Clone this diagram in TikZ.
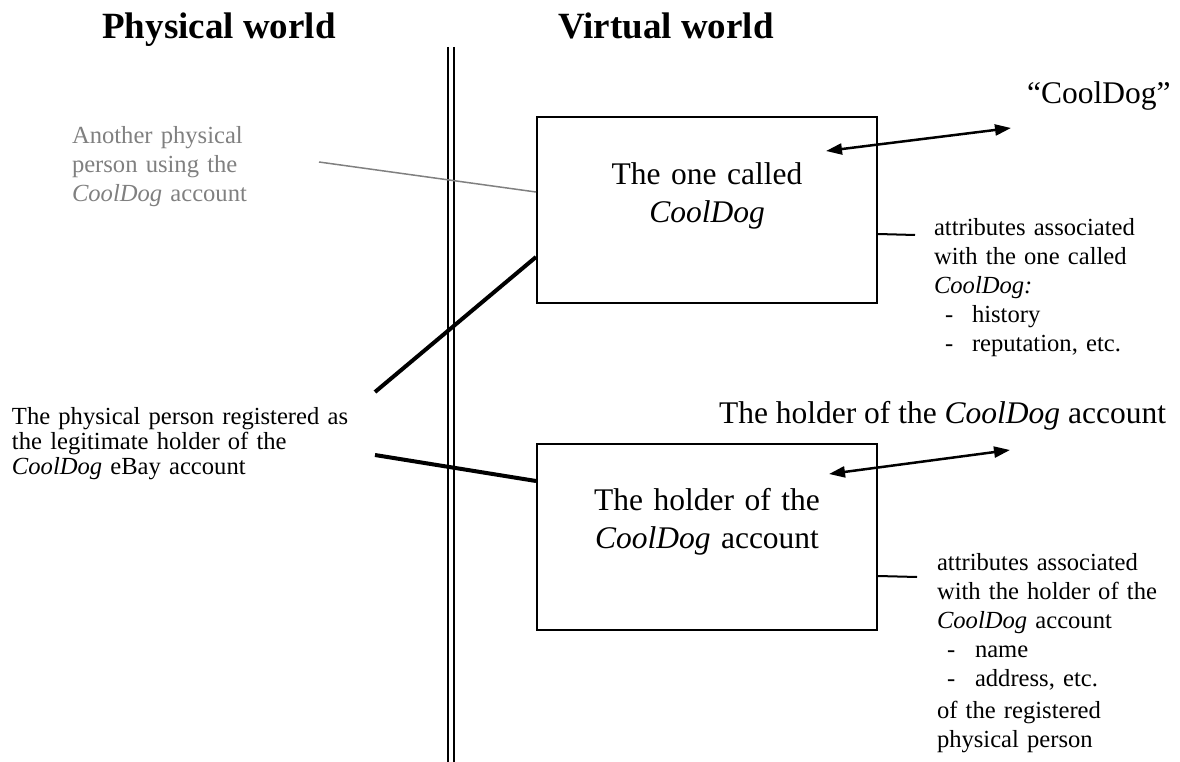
\documentclass[tikz,border=0pt]{standalone}
\usepackage{fontspec}
\setmainfont{Liberation Serif}
\usetikzlibrary{arrows.meta}
\begin{document}
\begin{tikzpicture}[x=1pt,y=-1pt,
  txt/.style={inner sep=0pt, outer sep=0pt},
  heading/.style={txt, font=\fontsize{37}{40}\selectfont\bfseries, anchor=base},
  note/.style={txt, font=\fontsize{24.6}{29}\selectfont, align=left, anchor=base west},
  big/.style={txt, font=\fontsize{31.5}{38}\selectfont},
  entity/.style={draw, line width=2pt, minimum width=340pt, minimum height=186pt, inner sep=0pt},
  link/.style={line width=4pt},
  usage/.style={draw=gray, line width=1.5pt},
  naming/.style={line width=2.5pt, {Triangle[length=16pt,width=11pt]}-{Triangle[length=16pt,width=11pt]}},
  tick/.style={line width=2pt},
  divider/.style={line width=2.5pt},
]
\useasboundingbox (0,0) rectangle (1180,762);

% column headings
\node[heading] (phys) at (219,39) {Physical world};
\node[heading] (virt) at (666,39) {Virtual world};

% border between the two worlds
\draw[divider] (448,47) -- (448,762);
\draw[divider] (454,47) -- (454,762);

% the two virtual entities
\node[entity] (called) at (707,210) {};
\node[big, align=center, text width=320pt, anchor=base] (calledtxt) at (707,185)
  {The one called\\\textit{CoolDog}};
\node[entity] (holder) at (707,537) {};
\node[big, align=center, text width=320pt, anchor=base] (holdertxt) at (707,510)
  {The holder of the\\\textit{CoolDog} account};

% their names
\node[big, anchor=base west] (quoted) at (1027,104) {“CoolDog”};
\node[big, anchor=base east] (holdername) at (1166,423) {The holder of the \textit{CoolDog} account};
\coordinate (quotedend) at (1011,128);
\coordinate (holdernameend) at (1010,450);
\draw[naming] ([xshift=-52pt,yshift=-35pt]called.north east) -- (quotedend);
\draw[naming] ([xshift=-49pt,yshift=-31pt]holder.north east) -- (holdernameend);

% attributes
\node[note, text width=240pt] (calledattr) at (934,235)
  {attributes associated\\with the one called\\\textit{CoolDog:}\\
   \hspace*{11pt}\makebox[27pt][l]{-}history\\
   \hspace*{11pt}\makebox[27pt][l]{-}reputation, etc.};
\node[note, text width=240pt] (holderattr) at (937,570)
  {attributes associated\\with the holder of the\\\textit{CoolDog} account\\
   \hspace*{10pt}\makebox[28pt][l]{-}name\\
   \hspace*{10pt}\makebox[28pt][l]{-}address, etc.\\[3pt]
   of the registered\\physical person};
\coordinate (calledattrend) at (915,235);
\coordinate (holderattrend) at (917,577);
\draw[tick] ([yshift=-118pt]called.north east) -- (calledattrend);
\draw[tick] ([yshift=-133pt]holder.north east) -- (holderattrend);

% physical persons
\node[note, text=gray, text width=220pt] (other) at (72,144)
  {Another physical\\person using the\\\textit{CoolDog} account};
\node[note, font=\fontsize{24.6}{25}\selectfont, text width=340pt] (registered) at (12,424)
  {\makebox[336pt][s]{The physical person registered as}\\
   \makebox[336pt][s]{the legitimate holder of the}\\
   \textit{CoolDog} eBay account};
\coordinate (otherend) at (319,162);
\coordinate (regtop) at (375,392);
\coordinate (reglow) at (375,455);
\draw[usage] (otherend) -- ([yshift=-76pt]called.north west);
\draw[link] (regtop) -- ([yshift=-141pt]called.north west);
\draw[link] (reglow) -- ([yshift=-38pt]holder.north west);
\end{tikzpicture}
\end{document}
